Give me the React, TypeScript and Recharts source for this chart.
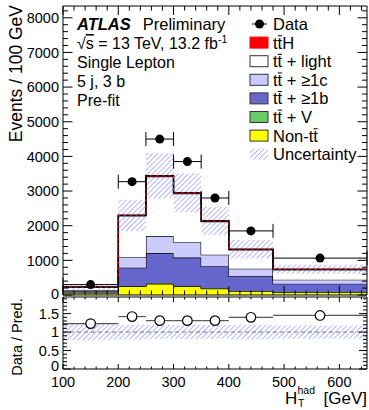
import React from 'react';
import { ComposedChart, Area, Line, Scatter, XAxis, YAxis, ErrorBar, ReferenceLine } from 'recharts';

// ---- data (Events / 100 GeV) ----
const binEdges = [100, 200, 250, 300, 350, 400, 480, 650];
const nonTT = [60, 250, 320, 250, 180, 110, 80];
const ttV = [3, 12, 18, 16, 12, 8, 5];
const tt1b = [47, 528, 872, 814, 638, 422, 240];
const tt1c = [30, 310, 490, 450, 335, 220, 115];
const ttLight = [88, 1185, 1715, 1395, 955, 545, 292];
const ttH = [2, 15, 25, 25, 20, 15, 8];
const dataEvents = [300, 3270, 4500, 3850, 2800, 1850, 1065];
const uncertainty = [75, 450, 650, 560, 400, 270, 130];
const ratioValues = [1.23, 1.42, 1.31, 1.31, 1.31, 1.4, 1.45];
const ratioUnc = [0.22, 0.2, 0.19, 0.19, 0.19, 0.2, 0.18];

const xMajor = [100, 200, 300, 400, 500, 600];
const yMajor = [0, 1000, 2000, 3000, 4000, 5000, 6000, 7000, 8000];
const rMajor = [0, 0.5, 1, 1.5];

const FONT = '"Liberation Sans", Arial, Helvetica, sans-serif';
const C_1C = '#ccccfc';
const C_1B = '#6666cc';
const C_V = '#66cc66';
const C_NON = '#ffff00';
const C_TTH = '#ff0000';
const HATCH = '#7a7aff';

const nBins = binEdges.length - 1;
const stepData = binEdges.map((edge, i) => {
  const k = Math.min(i, nBins - 1);
  const total = nonTT[k] + ttV[k] + tt1b[k] + tt1c[k] + ttLight[k] + ttH[k];
  return {
    x: edge,
    nonTT: nonTT[k],
    ttV: ttV[k],
    tt1b: tt1b[k],
    tt1c: tt1c[k],
    ttLight: ttLight[k],
    ttH: ttH[k],
    total,
    band: [total - uncertainty[k], total + uncertainty[k]],
    rband: [1 - ratioUnc[k], 1 + ratioUnc[k]],
  };
});

const points = dataEvents.map((v, k) => ({
  x: (binEdges[k] + binEdges[k + 1]) / 2,
  y: v,
  xerr: (binEdges[k + 1] - binEdges[k]) / 2,
}));
const ratioPoints = ratioValues.map((v, k) => ({
  x: (binEdges[k] + binEdges[k + 1]) / 2,
  y: v,
  xerr: (binEdges[k + 1] - binEdges[k]) / 2,
}));

const xTicks: number[] = [];
for (let v = 100; v <= 640; v += 20) xTicks.push(v);
const yTicks: number[] = [];
for (let v = 0; v <= 8200; v += 200) yTicks.push(v);
const rTicks: number[] = [];
for (let i = 0; i <= 19; i++) rTicks.push(Math.round(i * 10) / 100);

const isMajor = (majors: number[], v: number) => majors.some((m) => Math.abs(m - v) < 1e-6);

function makeTick(
  side: 'bottom' | 'top' | 'left' | 'right',
  majors: number[],
  majorLen: number,
  minorLen: number,
  showLabel: boolean,
  zeroShift = 0,
  fontSize = 14.5
) {
  return (props: any) => {
    const { x, y, payload } = props;
    const v = payload.value;
    const maj = isMajor(majors, v);
    const len = maj ? majorLen : minorLen;
    let line = null;
    if (side === 'bottom') line = <line x1={x} x2={x} y1={y} y2={y - len} stroke="#000" strokeWidth={1} />;
    if (side === 'top') line = <line x1={x} x2={x} y1={y} y2={y + len} stroke="#000" strokeWidth={1} />;
    if (side === 'left') line = <line x1={x} x2={x + len} y1={y} y2={y} stroke="#000" strokeWidth={1} />;
    if (side === 'right') line = <line x1={x} x2={x - len} y1={y} y2={y} stroke="#000" strokeWidth={1} />;
    let label = null;
    if (showLabel && maj) {
      if (side === 'bottom')
        label = (
          <text x={x} y={y + 18} textAnchor="middle" fontSize={fontSize} fontFamily={FONT} fill="#000">
            {v}
          </text>
        );
      if (side === 'left')
        label = (
          <text x={x - 4} y={y + (v === 0 ? zeroShift : 0)} dy="0.36em" textAnchor="end" fontSize={fontSize} fontFamily={FONT} fill="#000">
            {v}
          </text>
        );
    }
    return (
      <g>
        {line}
        {label}
      </g>
    );
  };
}

const dataShape = (p: any) => <circle cx={p.cx} cy={p.cy} r={4.5} fill="#000" />;
const ratioShape = (p: any) => <circle cx={p.cx} cy={p.cy} r={4.8} fill="#fff" stroke="#000" strokeWidth={1.2} />;

// legend labels: prefix before the barred "t", and the rest after it
const legendRows = [
  { key: 'data', pre: '', bar: false, post: 'Data' },
  { key: 'tth', pre: 't', bar: true, post: 'H' },
  { key: 'light', pre: 't', bar: true, post: ' + light' },
  { key: '1c', pre: 't', bar: true, post: ' + ≥1c' },
  { key: '1b', pre: 't', bar: true, post: ' + ≥1b' },
  { key: 'v', pre: 't', bar: true, post: ' + V' },
  { key: 'non', pre: 'Non-t', bar: true, post: '' },
  { key: 'unc', pre: '', bar: false, post: 'Uncertainty' },
];

// Arial / Liberation Sans advance widths (em) for the prefixes used above
const PRE_WIDTH: Record<string, number> = { '': 0, t: 0.278, 'Non-t': 2.445 };
const T_WIDTH = 0.278;

function Overlay() {
  const lx = 250;
  const tx = 273;
  const y0 = 24;
  const dy = 18.6;
  const fs = 16.5;
  return (
    <svg width={369} height={410} style={{ position: 'absolute', left: 0, top: 0, pointerEvents: 'none' }}>
      <text x={77} y={30} fontFamily={FONT} fontSize={16.5} fill="#000">
        <tspan fontWeight="bold" fontStyle="italic">ATLAS</tspan>
        <tspan dx={12}>Preliminary</tspan>
      </text>
      <text x={77} y={49} fontFamily={FONT} fontSize={16} fill="#000">
        √<tspan style={{ textDecoration: 'overline' }}>s</tspan> = 13 TeV, 13.2 fb
        <tspan fontSize={10.5} dy={-6}>-1</tspan>
      </text>
      <text x={77} y={68} fontFamily={FONT} fontSize={16} fill="#000">Single Lepton</text>
      <text x={77} y={87} fontFamily={FONT} fontSize={16} fill="#000">5 j, 3 b</text>
      <text x={77} y={106} fontFamily={FONT} fontSize={16} fill="#000">Pre-fit</text>

      {legendRows.map((r, i) => {
        const cy = y0 + i * dy;
        const base = cy + 0.36 * fs;
        let marker = null;
        if (r.key === 'data')
          marker = (
            <g>
              <line x1={252} x2={267} y1={cy} y2={cy} stroke="#000" strokeWidth={1} />
              <circle cx={259.5} cy={cy} r={4.5} fill="#000" />
            </g>
          );
        else if (r.key === 'unc') marker = <rect x={lx} y={cy - 5.5} width={18} height={11} fill="url(#hatchLeg)" />;
        else {
          const fill =
            r.key === 'tth' ? C_TTH : r.key === 'light' ? '#fff' : r.key === '1c' ? C_1C : r.key === '1b' ? C_1B : r.key === 'v' ? C_V : C_NON;
          const stroke = r.key === 'tth' ? C_TTH : '#333';
          marker = <rect x={lx} y={cy - 5.5} width={18} height={11} fill={fill} stroke={stroke} strokeWidth={1} />;
        }
        const barX = tx + PRE_WIDTH[r.pre] * fs;
        return (
          <g key={r.key}>
            {marker}
            <text x={tx} y={base} fontFamily={FONT} fontSize={fs} fill="#000">
              {r.pre}
              {r.bar ? 't' : ''}
              {r.post}
            </text>
            {r.bar && (
              <line x1={barX + 0.2} x2={barX + T_WIDTH * fs - 0.2} y1={base - 12.8} y2={base - 12.8} stroke="#000" strokeWidth={1} />
            )}
          </g>
        );
      })}
      <defs>
        <pattern id="hatchLeg" width={3.6} height={3.6} patternUnits="userSpaceOnUse" patternTransform="rotate(45)">
          <line x1={0} y1={0} x2={0} y2={3.6} stroke={HATCH} strokeWidth={1.1} />
        </pattern>
      </defs>

      <text transform="translate(22,5) rotate(-90)" textAnchor="end" fontFamily={FONT} fontSize={17.5} fill="#000">
        Events / 100 GeV
      </text>
      <text transform="translate(22,337) rotate(-90)" textAnchor="middle" fontFamily={FONT} fontSize={14.5} fill="#000">
        Data / Pred.
      </text>
      <text x={285} y={404} fontFamily={FONT} fontSize={17} fill="#000">H</text>
      <text x={297.5} y={394} fontFamily={FONT} fontSize={10.5} fill="#000">had</text>
      <text x={298} y={407} fontFamily={FONT} fontSize={10.5} fill="#000">T</text>
      <text x={367} y={404} textAnchor="end" fontFamily={FONT} fontSize={17} fill="#000">[GeV]</text>
    </svg>
  );
}

const axisLine = { stroke: '#000', strokeWidth: 1 };

export default function App() {
  return (
    <div style={{ position: 'absolute', left: 0, top: 0, width: 369, height: 410, background: '#fff', overflow: 'hidden' }}>
      <div style={{ position: 'absolute', left: 0, top: 0 }}>
        <ComposedChart width={369} height={305} data={stepData} margin={{ top: 5, right: 1, bottom: 9, left: 62 }}>
          <defs>
            <pattern id="hatchMain" width={3.6} height={3.6} patternUnits="userSpaceOnUse" patternTransform="rotate(45)">
              <line x1={0} y1={0} x2={0} y2={3.6} stroke={HATCH} strokeWidth={1.1} />
            </pattern>
          </defs>
          <XAxis xAxisId="b" dataKey="x" type="number" domain={[100, 650]} allowDataOverflow ticks={xTicks} interval={0}
            height={1} tickSize={0} tickMargin={0} tickLine={false} axisLine={axisLine} tick={makeTick('bottom', xMajor, 9, 4.5, false)} />
          <XAxis xAxisId="t" orientation="top" dataKey="x" type="number" domain={[100, 650]} allowDataOverflow ticks={xTicks} interval={0}
            height={1} tickSize={0} tickMargin={0} tickLine={false} axisLine={axisLine} tick={makeTick('top', xMajor, 9, 4.5, false)} />
          <YAxis yAxisId="l" type="number" domain={[0, 8340]} allowDataOverflow ticks={yTicks} interval={0}
            width={1} tickSize={0} tickMargin={0} tickLine={false} axisLine={axisLine} tick={makeTick('left', yMajor, 9.5, 5, true, -1)} />
          <YAxis yAxisId="r" orientation="right" type="number" domain={[0, 8340]} allowDataOverflow ticks={yTicks} interval={0}
            width={1} tickSize={0} tickMargin={0} tickLine={false} axisLine={axisLine} tick={makeTick('right', yMajor, 9.5, 5, false)} />
          <Area xAxisId="b" yAxisId="l" type="stepAfter" dataKey="nonTT" stackId="s" fill={C_NON} fillOpacity={1} stroke="#000" strokeWidth={1.2} isAnimationActive={false} />
          <Area xAxisId="b" yAxisId="l" type="stepAfter" dataKey="ttV" stackId="s" fill={C_V} fillOpacity={1} stroke="#000" strokeWidth={0.6} isAnimationActive={false} />
          <Area xAxisId="b" yAxisId="l" type="stepAfter" dataKey="tt1b" stackId="s" fill={C_1B} fillOpacity={1} stroke="#000" strokeWidth={1.2} isAnimationActive={false} />
          <Area xAxisId="b" yAxisId="l" type="stepAfter" dataKey="tt1c" stackId="s" fill={C_1C} fillOpacity={1} stroke="#000" strokeWidth={1.2} isAnimationActive={false} />
          <Area xAxisId="b" yAxisId="l" type="stepAfter" dataKey="ttLight" stackId="s" fill="#fff" fillOpacity={1} stroke="#000" strokeWidth={1.2} isAnimationActive={false} />
          <Area xAxisId="b" yAxisId="l" type="stepAfter" dataKey="ttH" stackId="s" fill={C_TTH} fillOpacity={1} stroke="none" isAnimationActive={false} />
          <Area xAxisId="b" yAxisId="l" type="stepAfter" dataKey="band" fill="url(#hatchMain)" fillOpacity={1} stroke="none" isAnimationActive={false} />
          <Line xAxisId="b" yAxisId="l" type="stepAfter" dataKey="total" stroke="#000" strokeWidth={1.6} dot={false} isAnimationActive={false} />
          <Line xAxisId="b" yAxisId="l" type="stepAfter" dataKey="total" stroke={C_TTH} strokeWidth={1} strokeDasharray="3 3" dot={false} isAnimationActive={false} />
          <Scatter xAxisId="b" yAxisId="l" data={points} dataKey="y" shape={dataShape} isAnimationActive={false}>
            <ErrorBar dataKey="xerr" direction="x" width={7} stroke="#000" strokeWidth={1} />
          </Scatter>
        </ComposedChart>
      </div>
      <div style={{ position: 'absolute', left: 0, top: 290 }}>
        <ComposedChart width={369} height={120} data={stepData} margin={{ top: 6, right: 1, bottom: 40, left: 62 }}>
          <defs>
            <pattern id="hatchRatio" width={3.6} height={3.6} patternUnits="userSpaceOnUse" patternTransform="rotate(45)">
              <line x1={0} y1={0} x2={0} y2={3.6} stroke={HATCH} strokeWidth={1.1} />
            </pattern>
          </defs>
          <XAxis xAxisId="b" dataKey="x" type="number" domain={[100, 650]} allowDataOverflow ticks={xTicks} interval={0}
            height={1} tickSize={0} tickMargin={0} tickLine={false} axisLine={axisLine} tick={makeTick('bottom', xMajor, 5, 2.5, true)} />
          <XAxis xAxisId="t" orientation="top" dataKey="x" type="number" domain={[100, 650]} allowDataOverflow ticks={xTicks} interval={0}
            height={1} tickSize={0} tickMargin={0} tickLine={false} axisLine={axisLine} tick={makeTick('top', xMajor, 5, 2.5, false)} />
          <YAxis yAxisId="l" type="number" domain={[0, 1.95]} allowDataOverflow ticks={rTicks} interval={0}
            width={1} tickSize={0} tickMargin={0} tickLine={false} axisLine={axisLine} tick={makeTick('left', rMajor, 8, 4, true, -3.5)} />
          <YAxis yAxisId="r" orientation="right" type="number" domain={[0, 1.95]} allowDataOverflow ticks={rTicks} interval={0}
            width={1} tickSize={0} tickMargin={0} tickLine={false} axisLine={axisLine} tick={makeTick('right', rMajor, 8, 4, false)} />
          <Area xAxisId="b" yAxisId="l" type="stepAfter" dataKey="rband" fill="url(#hatchRatio)" fillOpacity={1} stroke="none" isAnimationActive={false} />
          <ReferenceLine xAxisId="b" yAxisId="l" y={1} stroke="#777" strokeDasharray="4 3" strokeWidth={1} />
          <Scatter xAxisId="b" yAxisId="l" data={ratioPoints} dataKey="y" shape={ratioShape} isAnimationActive={false}>
            <ErrorBar dataKey="xerr" direction="x" width={0} stroke="#555" strokeWidth={1.2} />
          </Scatter>
        </ComposedChart>
      </div>
      <Overlay />
    </div>
  );
}
